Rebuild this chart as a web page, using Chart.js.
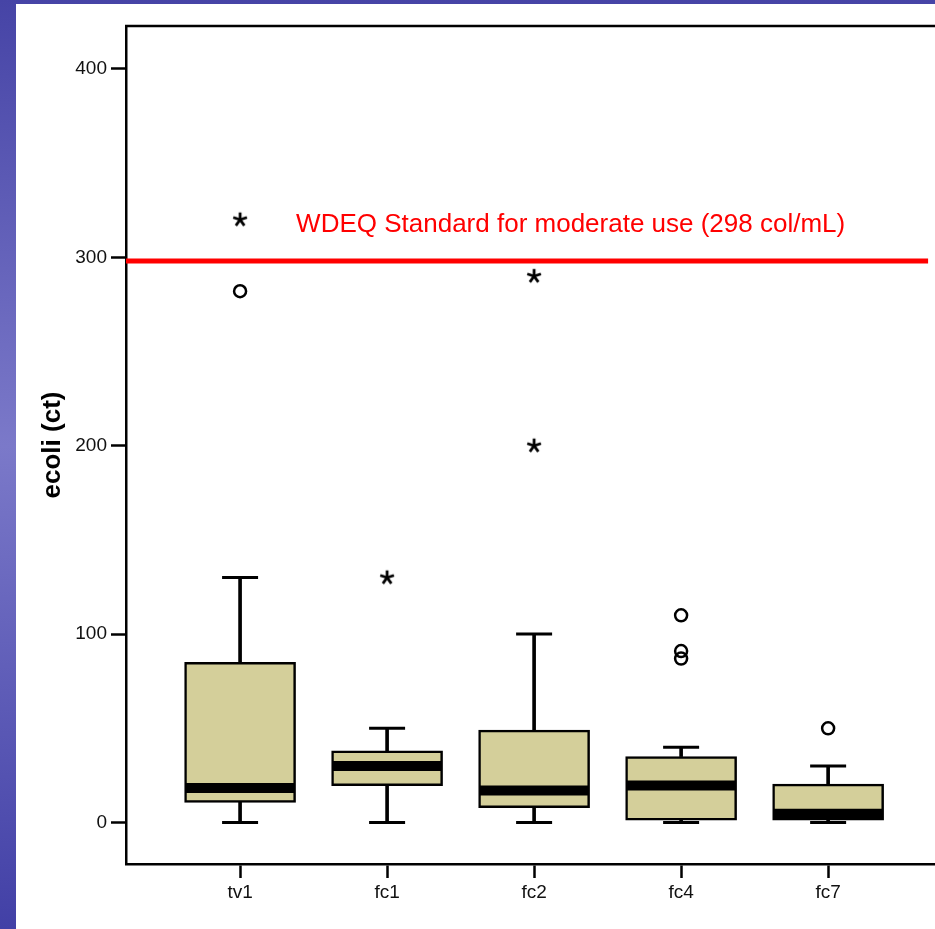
<!DOCTYPE html>
<html>
<head>
<meta charset="utf-8">
<script src="https://cdn.jsdelivr.net/npm/chart.js@4/dist/chart.umd.min.js"></script>
<style>
  html, body { margin: 0; padding: 0; }
  body {
    width: 935px; height: 929px; overflow: hidden;
    background: linear-gradient(to bottom, #4644a6 0%, #7b79c9 48%, #4240a6 100%);
  }
  #sheet { position: absolute; left: 16px; top: 4px; width: 919px; height: 925px; background: #fff; }
</style>
</head>
<body>
<div id="sheet"><canvas id="myChart" width="919" height="925"></canvas></div>
<script>
// data
const categories = ['tv1', 'fc1', 'fc2', 'fc4', 'fc7']
const whiskerLow = [0, 0, 0, 0, 0]
const q1 = [10.7, 19.5, 7.9, 1.3, 1.3]
const medians = [18.3, 30, 17, 19.7, 4.6]
const q3 = [85, 38, 49, 35, 20.4]
const whiskerHigh = [130, 50, 100, 40, 30]
// outliers: [category index, value]
const circleOutliers = [[0, 282], [3, 110], [3, 91], [3, 87], [4, 50]]
const starOutliers = [[0, 320], [1, 130], [2, 290], [2, 200]]
const standardValue = 298
const standardLabel = 'WDEQ Standard for moderate use (298 col/mL)'
const yTicks = [0, 100, 200, 300, 400]

const font = "'Liberation Sans', Arial, sans-serif"
const boxColor = '#d4cf9a'

function starImage() {
  const c = document.createElement('canvas')
  c.width = 18; c.height = 18
  const g = c.getContext('2d')
  g.strokeStyle = '#000'
  g.lineWidth = 2.8
  for (let k = 0; k < 5; k++) {
    const a = -Math.PI / 2 + k * 2 * Math.PI / 5
    g.beginPath()
    g.moveTo(9, 9)
    g.lineTo(9 + 7.2 * Math.cos(a), 9 + 7.2 * Math.sin(a))
    g.stroke()
  }
  return c
}

const idx = categories.map((c, i) => i)

// frame top line + the red label
const extras = {
  id: 'extras',
  afterDatasetsDraw(chart) {
    const { ctx, chartArea, scales } = chart
    ctx.save()
    ctx.strokeStyle = '#000'
    ctx.lineWidth = 2.5
    ctx.beginPath()
    ctx.moveTo(chartArea.left - 1, chartArea.top)
    ctx.lineTo(chartArea.right, chartArea.top)
    ctx.stroke()
    ctx.fillStyle = '#ff0000'
    ctx.font = '26px ' + font
    ctx.textBaseline = 'alphabetic'
    ctx.fillText(standardLabel, scales.x.getPixelForValue(0.381), scales.y.getPixelForValue(313.4))
    ctx.restore()
  }
}

new Chart(document.getElementById('myChart'), {
  type: 'bar',
  data: {
    datasets: [
      {
        type: 'bar', label: 'whiskers', order: 6, grouped: false,
        data: idx.flatMap(i => [{ x: i, y: [q3[i], whiskerHigh[i]] }, { x: i, y: [whiskerLow[i], q1[i]] }]),
        backgroundColor: '#000', barThickness: 3, borderWidth: 0
      },
      {
        type: 'bar', label: 'box', order: 5, grouped: false,
        data: idx.map(i => ({ x: i, y: [q1[i], q3[i]] })),
        backgroundColor: boxColor, borderColor: '#000', borderWidth: 2.5,
        borderSkipped: false, barThickness: 111
      },
      {
        type: 'line', label: 'caps', order: 4, showLine: false,
        data: idx.flatMap(i => [{ x: i, y: whiskerHigh[i] }, { x: i, y: whiskerLow[i] }]),
        pointStyle: 'line', pointRadius: 18, borderColor: '#000', pointBorderWidth: 3
      },
      {
        type: 'line', label: 'median', order: 3, showLine: false,
        data: idx.map(i => ({ x: i, y: medians[i] })),
        pointStyle: 'line', pointRadius: 54.5, borderColor: '#000', pointBorderWidth: 10
      },
      {
        type: 'line', label: 'circles', order: 2, showLine: false,
        data: circleOutliers.map(o => ({ x: o[0], y: o[1] })),
        pointStyle: 'circle', pointRadius: 6, backgroundColor: 'rgba(0,0,0,0)',
        borderColor: '#000', pointBorderWidth: 2.5
      },
      {
        type: 'line', label: 'stars', order: 1, showLine: false,
        data: starOutliers.map(o => ({ x: o[0], y: o[1] })),
        pointStyle: starImage(), pointRadius: 9
      },
      {
        type: 'line', label: 'standard', order: 0,
        data: [{ x: -0.776, y: standardValue }, { x: 4.68, y: standardValue }],
        borderColor: '#ff0000', borderWidth: 5, pointRadius: 0
      }
    ]
  },
  options: {
    responsive: false,
    animation: false,
    devicePixelRatio: 1,
    layout: { autoPadding: false, padding: { top: 22, left: 0, right: 0, bottom: 0 } },
    plugins: { legend: { display: false }, tooltip: { enabled: false } },
    scales: {
      x: {
        type: 'linear', min: -0.776, max: 4.727, offset: false,
        afterBuildTicks: (s) => { s.ticks = idx.map(v => ({ value: v })) },
        afterFit: (s) => { s.height = 65 },
        border: { color: '#000', width: 2.5 },
        grid: { offset: false, drawOnChartArea: false, drawTicks: true, tickLength: 14, tickColor: '#000', tickWidth: 2.5 },
        ticks: {
          padding: 3, color: '#111', font: { family: font, size: 19 },
          maxRotation: 0, autoSkip: false,
          callback: (v) => categories[v] ?? ''
        }
      },
      y: {
        type: 'linear', min: -22.03, max: 422.8,
        afterBuildTicks: (s) => { s.ticks = yTicks.map(v => ({ value: v })) },
        afterFit: (s) => { s.width = 110 },
        border: { color: '#000', width: 2.5 },
        grid: { drawOnChartArea: false, drawTicks: true, tickLength: 15, tickColor: '#000', tickWidth: 2.5 },
        ticks: { padding: 4, color: '#111', font: { family: font, size: 19 } },
        title: {
          display: true, text: 'ecoli (ct)', color: '#000',
          font: { family: font, size: 26, weight: 'bold' },
          padding: { top: 21, bottom: 0 }
        }
      }
    }
  },
  plugins: [extras]
})
</script>
</body>
</html>
